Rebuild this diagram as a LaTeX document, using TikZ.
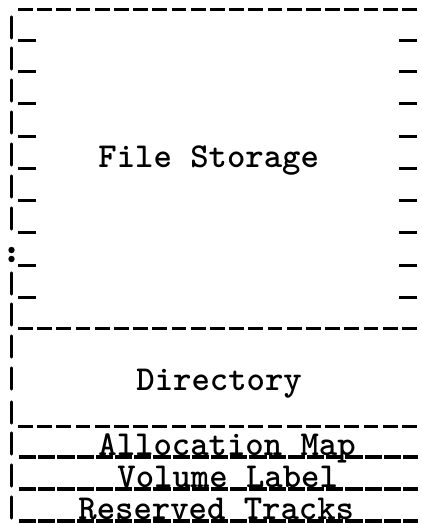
\documentclass[tikz,border=0pt]{standalone}
\usepackage{tikz}
\usetikzlibrary{positioning}

\tikzset{
  barline/.style={line width=1.7pt, line cap=round},
  tickmark/.style={line width=1.5pt},
  dashrule/.style={line width=1.5pt, dash pattern=on 7.4pt off 2.2pt},
  underrule/.style={line width=1.6pt, dash pattern=on 8.6pt off 1pt},
  typed/.style={inner sep=0pt, anchor=base west, font=\fontsize{17.5}{20}\ttfamily\bfseries}
}

\begin{document}
\begin{tikzpicture}[x=0.5pt, y=-0.5pt]
\useasboundingbox (0,0) rectangle (422,524);
\draw[dashrule] (18,10) -- (421,10);
\foreach \y in {41,72,104,136,168,200,232,297,328,360,392,426,457,489,521}
  \draw[barline] (11.5,\y-24) -- (11.5,\y-3);
\fill (11.5,250) circle (3.2);
\fill (11.5,259) circle (3.2);
\foreach \y in {41,72,104,136,168,200,232,265,297} {
  \draw[tickmark] (18,\y) -- (36,\y);
  \draw[tickmark] (399,\y) -- (417,\y);
}
\draw[dashrule] (18,328) -- (421,328);
\draw[dashrule] (18,426) -- (421,426);
\foreach \y in {457,489,521}
  \draw[underrule] (19,\y) -- (418,\y);
\node[typed] (filestorage) at (98,167) {File Storage};
\node[typed] (directory) at (136,390) {Directory};
\node[typed] (allocmap) at (98,455) {Allocation Map};
\node[typed] (volumelabel) at (117,487) {Volume Label};
\node[typed] (reserved) at (78,519) {Reserved Tracks};
\end{tikzpicture}
\end{document}
